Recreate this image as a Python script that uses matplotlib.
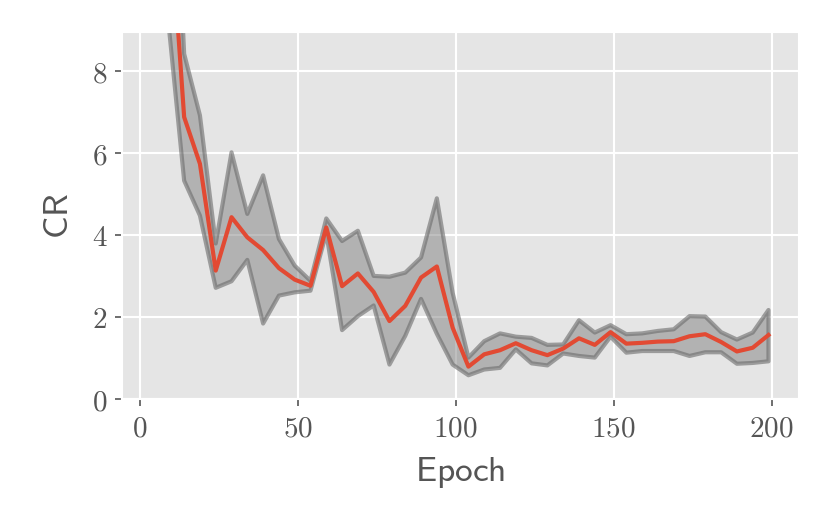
import matplotlib
matplotlib.use("Agg")
import matplotlib.pyplot as plt
from matplotlib.ticker import FuncFormatter

plt.style.use("ggplot")
plt.rcParams["mathtext.fontset"] = "cm"
plt.rcParams["grid.linewidth"] = 1.0

# CR per epoch: mean and band (lower / upper)
epochs = [4, 9, 14, 19, 24, 29, 34, 39, 44, 49,
          54, 59, 64, 69, 74, 79, 84, 89, 94, 99,
          104, 109, 114, 119, 124, 129, 134, 139, 144, 149,
          154, 159, 164, 169, 174, 179, 184, 189, 194, 199]
cr_mean = [20.0, 12.4, 6.88, 5.74, 3.14, 4.44, 3.95, 3.64, 3.20, 2.92,
           2.77, 4.19, 2.76, 3.07, 2.62, 1.91, 2.28, 2.97, 3.24, 1.75,
           0.80, 1.10, 1.20, 1.37, 1.20, 1.08, 1.24, 1.49, 1.33, 1.64,
           1.36, 1.38, 1.41, 1.42, 1.54, 1.59, 1.40, 1.17, 1.26, 1.57]
cr_low = [15.0, 9.2, 5.33, 4.48, 2.72, 2.88, 3.40, 1.85, 2.53, 2.61,
          2.65, 4.05, 1.69, 2.03, 2.29, 0.85, 1.55, 2.45, 1.60, 0.85,
          0.59, 0.73, 0.77, 1.22, 0.88, 0.83, 1.12, 1.06, 1.02, 1.53,
          1.14, 1.18, 1.18, 1.18, 1.06, 1.15, 1.15, 0.87, 0.89, 0.93]
cr_high = [26.0, 16.8, 8.42, 6.92, 3.80, 6.02, 4.52, 5.46, 3.91, 3.26,
           2.89, 4.41, 3.86, 4.11, 3.01, 2.99, 3.09, 3.46, 4.90, 2.60,
           1.02, 1.42, 1.61, 1.53, 1.50, 1.33, 1.34, 1.93, 1.63, 1.81,
           1.59, 1.61, 1.67, 1.71, 2.03, 2.02, 1.64, 1.46, 1.63, 2.18]

x_ticks = [0, 50, 100, 150, 200]
y_ticks = [0, 2, 4, 6, 8]

fig = plt.figure(figsize=(830 / 150, 519 / 150), dpi=150)
ax = fig.add_axes([0.1467, 0.2303, 0.8163, 0.7087])

ax.fill_between(epochs, cr_low, cr_high, facecolor=(0.5, 0.5, 0.5, 0.5),
                edgecolor=(0.42, 0.42, 0.42, 0.6), lw=2)
ax.plot(epochs, cr_mean, color="#E24A33", lw=2)

ax.set_ylim(0, 8.96)
ax.set_xticks(x_ticks)
ax.set_yticks(y_ticks)
fmt = FuncFormatter(lambda v, p: f"${v:g}$")
ax.xaxis.set_major_formatter(fmt)
ax.yaxis.set_major_formatter(fmt)
ax.tick_params(labelsize=14)

ax.set_xlabel(r"$\mathsf{Epoch}$", fontsize=17, labelpad=6)
ax.set_ylabel(r"$\mathsf{CR}$", fontsize=17, labelpad=8)

fig.savefig("out.png", dpi=150)
